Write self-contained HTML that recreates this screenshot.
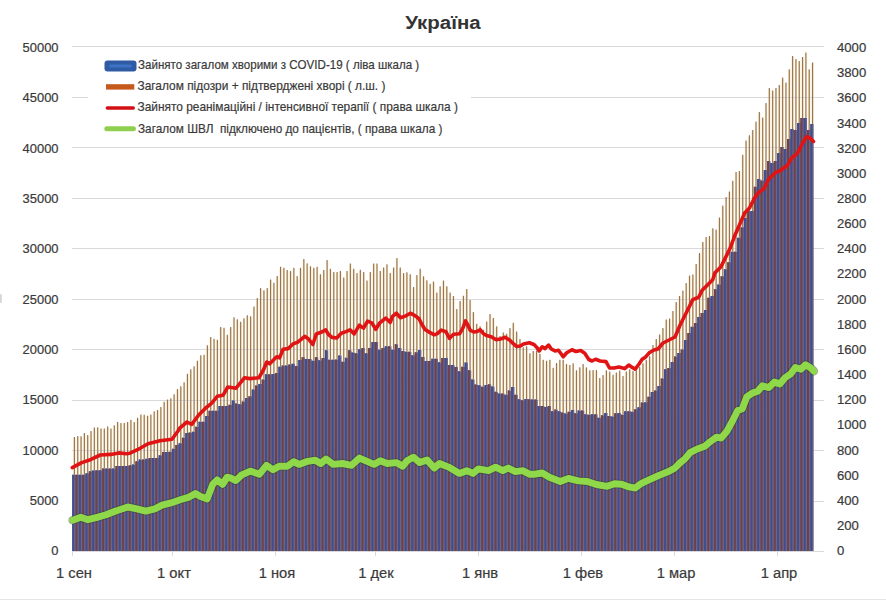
<!DOCTYPE html>
<html><head><meta charset="utf-8"><style>
html,body{margin:0;padding:0;background:#fff;}
body{width:886px;height:600px;position:relative;overflow:hidden;font-family:"Liberation Sans","DejaVu Sans",sans-serif;color:#3a3a3a;}
.yl,.yr,.xl,.lg{-webkit-text-stroke:0.2px #3a3a3a;}
.yl{position:absolute;left:0;width:58.5px;text-align:right;font-size:12px;line-height:16px;transform:scaleX(1.075);transform-origin:58.5px 0;}
.yr{position:absolute;left:837.2px;font-size:12px;line-height:16px;transform:scaleX(1.093);transform-origin:0 0;}
.xl{position:absolute;top:565.5px;width:80px;text-align:center;font-size:13.8px;line-height:16px;transform:scaleX(1.065);transform-origin:40px 0;}
.lg{position:absolute;left:137.5px;font-size:11.9px;line-height:16px;white-space:nowrap;}
.t{position:absolute;left:0;width:886px;top:10.8px;text-align:center;font-weight:bold;font-size:18px;line-height:24px;color:#333;transform:scaleX(1.135);transform-origin:443.7px 0;}
</style></head><body>
<svg width="886" height="600" viewBox="0 0 886 600" style="position:absolute;left:0;top:0"><path fill="#fbedcc" d="M73.2 437.7h2.4V474.8h-2.4zM76.53 436.9h2.4V474.8h-2.4zM79.85 437.1h2.4V474.8h-2.4zM83.18 433.9h2.4V474.8h-2.4zM86.5 435.7h2.4V473.17h-2.4zM89.83 431.7h2.4V471.36h-2.4zM93.15 428.4h2.4V470.51h-2.4zM96.48 428h2.4V470.2h-2.4zM99.8 429.2h2.4V470.2h-2.4zM103.12 429.2h2.4V468.53h-2.4zM106.45 427.2h2.4V468.4h-2.4zM109.78 429.2h2.4V468.4h-2.4zM113.1 426.1h2.4V468.4h-2.4zM116.43 422.8h2.4V466.1h-2.4zM119.75 423.7h2.4V466.1h-2.4zM123.08 423.7h2.4V466.1h-2.4zM126.4 422.9h2.4V466.1h-2.4zM129.73 420.5h2.4V465.14h-2.4zM133.05 422.8h2.4V464.61h-2.4zM136.38 418.6h2.4V461.17h-2.4zM139.7 415.3h2.4V459.5h-2.4zM143.03 415.6h2.4V459.5h-2.4zM146.35 416.5h2.4V458.74h-2.4zM149.68 415.3h2.4V458h-2.4zM153 412h2.4V458h-2.4zM156.32 410.8h2.4V458h-2.4zM159.65 407.8h2.4V455.31h-2.4zM162.98 402.5h2.4V452h-2.4zM166.3 400.3h2.4V452h-2.4zM169.62 399.1h2.4V451.78h-2.4zM172.95 395h2.4V448.73h-2.4zM176.28 389.8h2.4V445.07h-2.4zM179.6 387.1h2.4V443.31h-2.4zM182.93 383h2.4V437.67h-2.4zM186.25 374.55h2.4V433.04h-2.4zM189.57 370h2.4V432.5h-2.4zM192.9 367.05h2.4V431.66h-2.4zM196.23 361.5h2.4V426.67h-2.4zM199.55 356h2.4V421.7h-2.4zM202.88 355.6h2.4V421.7h-2.4zM206.2 346.1h2.4V415.93h-2.4zM209.53 337.7h2.4V410.7h-2.4zM212.85 339.5h2.4V410.7h-2.4zM216.18 340.6h2.4V410.7h-2.4zM219.5 327.8h2.4V406h-2.4zM222.82 328.5h2.4V406h-2.4zM226.15 335.5h2.4V406h-2.4zM229.48 327.8h2.4V404.7h-2.4zM232.8 318h2.4V400.6h-2.4zM236.12 320.1h2.4V403.51h-2.4zM239.45 322.6h2.4V404.3h-2.4zM242.78 319h2.4V401.5h-2.4zM246.1 316h2.4V398.07h-2.4zM249.43 317h2.4V396.35h-2.4zM252.75 307.3h2.4V389.6h-2.4zM256.07 298.8h2.4V385.47h-2.4zM259.4 288.9h2.4V384h-2.4zM262.73 291.1h2.4V379.5h-2.4zM266.05 288.9h2.4V374.3h-2.4zM269.38 280.2h2.4V374.3h-2.4zM272.7 283.5h2.4V373.97h-2.4zM276.03 276.9h2.4V373.1h-2.4zM279.35 267.5h2.4V366.7h-2.4zM282.68 268.5h2.4V365.5h-2.4zM286 270.7h2.4V365.5h-2.4zM289.32 271.8h2.4V364.51h-2.4zM292.65 268.5h2.4V363.8h-2.4zM295.98 276.9h2.4V366.1h-2.4zM299.3 268.5h2.4V359.89h-2.4zM302.62 259.8h2.4V357.3h-2.4zM305.95 264.1h2.4V359.1h-2.4zM309.28 267.1h2.4V359.1h-2.4zM312.6 268.5h2.4V360.8h-2.4zM315.93 267.5h2.4V357.3h-2.4zM319.25 275.1h2.4V360.3h-2.4zM322.57 270.7h2.4V357.9h-2.4zM325.9 260.9h2.4V350.3h-2.4zM329.23 269.5h2.4V359.68h-2.4zM332.55 272.7h2.4V359.64h-2.4zM335.88 272.7h2.4V359.6h-2.4zM339.2 271.8h2.4V355.5h-2.4zM342.52 278.2h2.4V361.82h-2.4zM345.85 271.8h2.4V357.8h-2.4zM349.18 264.2h2.4V350.3h-2.4zM352.5 269.5h2.4V352.52h-2.4zM355.82 273.9h2.4V353.21h-2.4zM359.15 270.6h2.4V349.37h-2.4zM362.48 272.7h2.4V347.9h-2.4zM365.8 281.4h2.4V353.2h-2.4zM369.12 272.7h2.4V347.9h-2.4zM372.45 264.2h2.4V342.1h-2.4zM375.77 264.2h2.4V342.1h-2.4zM379.1 271.8h2.4V349.7h-2.4zM382.43 268.3h2.4V347.9h-2.4zM385.75 265h2.4V346.2h-2.4zM389.07 273.9h2.4V346.2h-2.4zM392.4 268.3h2.4V349.7h-2.4zM395.73 258.7h2.4V344.29h-2.4zM399.05 268.3h2.4V347.98h-2.4zM402.38 273.9h2.4V351.1h-2.4zM405.7 273h2.4V351.7h-2.4zM409.03 275.1h2.4V351.7h-2.4zM412.35 287.9h2.4V355.2h-2.4zM415.68 275.9h2.4V352.25h-2.4zM419 269.5h2.4V349.9h-2.4zM422.32 277.1h2.4V356.9h-2.4zM425.65 281.1h2.4V361h-2.4zM428.98 284.6h2.4V361h-2.4zM432.3 282.3h2.4V358.7h-2.4zM435.62 293.4h2.4V358.7h-2.4zM438.95 287h2.4V362.2h-2.4zM442.28 281.4h2.4V358.1h-2.4zM445.6 287h2.4V358.1h-2.4zM448.93 293.4h2.4V365.1h-2.4zM452.25 296.9h2.4V365.1h-2.4zM455.57 309.7h2.4V367.05h-2.4zM458.9 301.9h2.4V371.3h-2.4zM462.23 296.6h2.4V366.7h-2.4zM465.55 289.8h2.4V362.6h-2.4zM468.88 300.7h2.4V370.2h-2.4zM472.2 312.7h2.4V379.5h-2.4zM475.53 324.6h2.4V384.54h-2.4zM478.85 327h2.4V385.3h-2.4zM482.18 330.5h2.4V386.86h-2.4zM485.5 322.3h2.4V385.02h-2.4zM488.82 314.7h2.4V384.2h-2.4zM492.15 318.8h2.4V386.42h-2.4zM495.48 327h2.4V391.71h-2.4zM498.8 336.9h2.4V393.5h-2.4zM502.12 333.4h2.4V393.5h-2.4zM505.45 334.6h2.4V394.7h-2.4zM508.78 328.7h2.4V390.6h-2.4zM512.1 323.5h2.4V387.1h-2.4zM515.43 332.2h2.4V394.7h-2.4zM518.75 339.8h2.4V399.3h-2.4zM522.08 348h2.4V400.2h-2.4zM525.4 347.05h2.4V398.9h-2.4zM528.73 354.05h2.4V399.19h-2.4zM532.05 351.7h2.4V399.5h-2.4zM535.38 351.3h2.4V399.5h-2.4zM538.7 354.6h2.4V405.9h-2.4zM542.03 360.5h2.4V405.9h-2.4zM545.35 361.6h2.4V407.1h-2.4zM548.68 360.5h2.4V405.9h-2.4zM552 368.6h2.4V411.2h-2.4zM555.33 363.7h2.4V409.4h-2.4zM558.65 360.5h2.4V411.2h-2.4zM561.98 360.5h2.4V412.42h-2.4zM565.3 364.9h2.4V413.5h-2.4zM568.62 365.7h2.4V411.75h-2.4zM571.95 364h2.4V410h-2.4zM575.28 371h2.4V413.32h-2.4zM578.6 368.05h2.4V410.6h-2.4zM581.93 364.9h2.4V410.6h-2.4zM585.25 368.05h2.4V414.2h-2.4zM588.58 371h2.4V414.75h-2.4zM591.9 370.9h2.4V414.2h-2.4zM595.23 370.9h2.4V414.2h-2.4zM598.55 378.7h2.4V417.7h-2.4zM601.88 375.8h2.4V415.3h-2.4zM605.2 371.1h2.4V413h-2.4zM608.53 372.3h2.4V415.9h-2.4zM611.85 375.6h2.4V416.5h-2.4zM615.18 373.2h2.4V413.36h-2.4zM618.5 371.4h2.4V413h-2.4zM621.83 376.7h2.4V414.75h-2.4zM625.15 372.3h2.4V411.25h-2.4zM628.48 370h2.4V411.25h-2.4zM631.8 371.7h2.4V411.8h-2.4zM635.13 371.1h2.4V409.34h-2.4zM638.45 367.9h2.4V407.2h-2.4zM641.78 364.1h2.4V402.5h-2.4zM645.1 360.6h2.4V402.37h-2.4zM648.43 357.1h2.4V396.7h-2.4zM651.75 345.8h2.4V392.01h-2.4zM655.08 339.8h2.4V390.5h-2.4zM658.4 335.2h2.4V386h-2.4zM661.73 328.8h2.4V378.5h-2.4zM665.05 320.4h2.4V369.36h-2.4zM668.38 319.2h2.4V368.01h-2.4zM671.7 311.8h2.4V362h-2.4zM675.03 302.8h2.4V356.5h-2.4zM678.35 296.8h2.4V353h-2.4zM681.68 291.2h2.4V349.5h-2.4zM685 283.8h2.4V340h-2.4zM688.33 276.4h2.4V333h-2.4zM691.65 275.2h2.4V326.86h-2.4zM694.98 264.8h2.4V323h-2.4zM698.3 253.8h2.4V317h-2.4zM701.63 242.8h2.4V312.97h-2.4zM704.95 237.8h2.4V310h-2.4zM708.28 236.7h2.4V297.75h-2.4zM711.6 229.1h2.4V296h-2.4zM714.93 230.2h2.4V289.24h-2.4zM718.25 218.3h2.4V284.5h-2.4zM721.58 206.4h2.4V276.3h-2.4zM724.9 197.7h2.4V269.3h-2.4zM728.23 192.3h2.4V262.3h-2.4zM731.55 181.5h2.4V251.8h-2.4zM734.88 172.8h2.4V251.8h-2.4zM738.2 171.7h2.4V237.8h-2.4zM741.53 155.5h2.4V227.3h-2.4zM744.85 141.4h2.4V218h-2.4zM748.18 136h2.4V211h-2.4zM751.5 130.7h2.4V211h-2.4zM754.83 122.4h2.4V186.69h-2.4zM758.15 112.9h2.4V179h-2.4zM761.48 118.2h2.4V180.52h-2.4zM764.8 103.7h2.4V170h-2.4zM768.13 88.8h2.4V161h-2.4zM771.45 91.2h2.4V163h-2.4zM774.78 88.8h2.4V161h-2.4zM778.1 85.7h2.4V153h-2.4zM781.43 78.4h2.4V147h-2.4zM784.75 83.3h2.4V149h-2.4zM788.08 70.1h2.4V139h-2.4zM791.4 56.9h2.4V129h-2.4zM794.73 59.7h2.4V130h-2.4zM798.05 61.9h2.4V123h-2.4zM801.38 57.7h2.4V118h-2.4zM804.7 53.3h2.4V118h-2.4zM808.03 70.1h2.4V130h-2.4zM811.35 63.2h2.4V124h-2.4z"/><line x1="72" y1="46.5" x2="824" y2="46.5" stroke="#d9d9d9" stroke-width="1"/><line x1="72" y1="97.5" x2="824" y2="97.5" stroke="#d9d9d9" stroke-width="1"/><line x1="72" y1="147.5" x2="824" y2="147.5" stroke="#d9d9d9" stroke-width="1"/><line x1="72" y1="198.5" x2="824" y2="198.5" stroke="#d9d9d9" stroke-width="1"/><line x1="72" y1="248.5" x2="824" y2="248.5" stroke="#d9d9d9" stroke-width="1"/><line x1="72" y1="299.5" x2="824" y2="299.5" stroke="#d9d9d9" stroke-width="1"/><line x1="72" y1="349.5" x2="824" y2="349.5" stroke="#d9d9d9" stroke-width="1"/><line x1="72" y1="400.5" x2="824" y2="400.5" stroke="#d9d9d9" stroke-width="1"/><line x1="72" y1="450.5" x2="824" y2="450.5" stroke="#d9d9d9" stroke-width="1"/><line x1="72" y1="501.5" x2="824" y2="501.5" stroke="#d9d9d9" stroke-width="1"/><rect x="88" y="52" width="383" height="88" fill="#fff"/><path fill="#967556" d="M73.83 436.9h1.15V474.8h-1.15zM77.15 436.1h1.15V474.8h-1.15zM80.48 436.3h1.15V474.8h-1.15zM83.8 433.1h1.15V474.8h-1.15zM87.12 434.9h1.15V473.17h-1.15zM90.45 430.9h1.15V471.36h-1.15zM93.78 427.6h1.15V470.51h-1.15zM97.1 427.2h1.15V470.2h-1.15zM100.43 428.4h1.15V470.2h-1.15zM103.75 428.4h1.15V468.53h-1.15zM107.08 426.4h1.15V468.4h-1.15zM110.4 428.4h1.15V468.4h-1.15zM113.73 425.3h1.15V468.4h-1.15zM117.05 422h1.15V466.1h-1.15zM120.38 422.9h1.15V466.1h-1.15zM123.7 422.9h1.15V466.1h-1.15zM127.03 422.1h1.15V466.1h-1.15zM130.35 419.7h1.15V465.14h-1.15zM133.68 422h1.15V464.61h-1.15zM137 417.8h1.15V461.17h-1.15zM140.32 414.5h1.15V459.5h-1.15zM143.65 414.8h1.15V459.5h-1.15zM146.98 415.7h1.15V458.74h-1.15zM150.3 414.5h1.15V458h-1.15zM153.62 411.2h1.15V458h-1.15zM156.95 410h1.15V458h-1.15zM160.28 407h1.15V455.31h-1.15zM163.6 401.7h1.15V452h-1.15zM166.93 399.5h1.15V452h-1.15zM170.25 398.3h1.15V451.78h-1.15zM173.57 394.2h1.15V448.73h-1.15zM176.9 389h1.15V445.07h-1.15zM180.23 386.3h1.15V443.31h-1.15zM183.55 382.2h1.15V437.67h-1.15zM186.88 373.75h1.15V433.04h-1.15zM190.2 369.2h1.15V432.5h-1.15zM193.53 366.25h1.15V431.66h-1.15zM196.85 360.7h1.15V426.67h-1.15zM200.18 355.2h1.15V421.7h-1.15zM203.5 354.8h1.15V421.7h-1.15zM206.82 345.3h1.15V415.93h-1.15zM210.15 336.9h1.15V410.7h-1.15zM213.48 338.7h1.15V410.7h-1.15zM216.8 339.8h1.15V410.7h-1.15zM220.12 327h1.15V406h-1.15zM223.45 327.7h1.15V406h-1.15zM226.78 334.7h1.15V406h-1.15zM230.1 327h1.15V404.7h-1.15zM233.43 317.2h1.15V400.6h-1.15zM236.75 319.3h1.15V403.51h-1.15zM240.07 321.8h1.15V404.3h-1.15zM243.4 318.2h1.15V401.5h-1.15zM246.73 315.2h1.15V398.07h-1.15zM250.05 316.2h1.15V396.35h-1.15zM253.38 306.5h1.15V389.6h-1.15zM256.7 298h1.15V385.47h-1.15zM260.03 288.1h1.15V384h-1.15zM263.35 290.3h1.15V379.5h-1.15zM266.68 288.1h1.15V374.3h-1.15zM270 279.4h1.15V374.3h-1.15zM273.32 282.7h1.15V373.97h-1.15zM276.65 276.1h1.15V373.1h-1.15zM279.98 266.7h1.15V366.7h-1.15zM283.3 267.7h1.15V365.5h-1.15zM286.62 269.9h1.15V365.5h-1.15zM289.95 271h1.15V364.51h-1.15zM293.28 267.7h1.15V363.8h-1.15zM296.6 276.1h1.15V366.1h-1.15zM299.93 267.7h1.15V359.89h-1.15zM303.25 259h1.15V357.3h-1.15zM306.57 263.3h1.15V359.1h-1.15zM309.9 266.3h1.15V359.1h-1.15zM313.23 267.7h1.15V360.8h-1.15zM316.55 266.7h1.15V357.3h-1.15zM319.88 274.3h1.15V360.3h-1.15zM323.2 269.9h1.15V357.9h-1.15zM326.53 260.1h1.15V350.3h-1.15zM329.85 268.7h1.15V359.68h-1.15zM333.18 271.9h1.15V359.64h-1.15zM336.5 271.9h1.15V359.6h-1.15zM339.82 271h1.15V355.5h-1.15zM343.15 277.4h1.15V361.82h-1.15zM346.48 271h1.15V357.8h-1.15zM349.8 263.4h1.15V350.3h-1.15zM353.12 268.7h1.15V352.52h-1.15zM356.45 273.1h1.15V353.21h-1.15zM359.77 269.8h1.15V349.37h-1.15zM363.1 271.9h1.15V347.9h-1.15zM366.43 280.6h1.15V353.2h-1.15zM369.75 271.9h1.15V347.9h-1.15zM373.07 263.4h1.15V342.1h-1.15zM376.4 263.4h1.15V342.1h-1.15zM379.73 271h1.15V349.7h-1.15zM383.05 267.5h1.15V347.9h-1.15zM386.38 264.2h1.15V346.2h-1.15zM389.7 273.1h1.15V346.2h-1.15zM393.03 267.5h1.15V349.7h-1.15zM396.35 257.9h1.15V344.29h-1.15zM399.68 267.5h1.15V347.98h-1.15zM403 273.1h1.15V351.1h-1.15zM406.32 272.2h1.15V351.7h-1.15zM409.65 274.3h1.15V351.7h-1.15zM412.98 287.1h1.15V355.2h-1.15zM416.3 275.1h1.15V352.25h-1.15zM419.62 268.7h1.15V349.9h-1.15zM422.95 276.3h1.15V356.9h-1.15zM426.28 280.3h1.15V361h-1.15zM429.6 283.8h1.15V361h-1.15zM432.93 281.5h1.15V358.7h-1.15zM436.25 292.6h1.15V358.7h-1.15zM439.57 286.2h1.15V362.2h-1.15zM442.9 280.6h1.15V358.1h-1.15zM446.23 286.2h1.15V358.1h-1.15zM449.55 292.6h1.15V365.1h-1.15zM452.88 296.1h1.15V365.1h-1.15zM456.2 308.9h1.15V367.05h-1.15zM459.53 301.1h1.15V371.3h-1.15zM462.85 295.8h1.15V366.7h-1.15zM466.18 289h1.15V362.6h-1.15zM469.5 299.9h1.15V370.2h-1.15zM472.82 311.9h1.15V379.5h-1.15zM476.15 323.8h1.15V384.54h-1.15zM479.48 326.2h1.15V385.3h-1.15zM482.8 329.7h1.15V386.86h-1.15zM486.12 321.5h1.15V385.02h-1.15zM489.45 313.9h1.15V384.2h-1.15zM492.78 318h1.15V386.42h-1.15zM496.1 326.2h1.15V391.71h-1.15zM499.43 336.1h1.15V393.5h-1.15zM502.75 332.6h1.15V393.5h-1.15zM506.07 333.8h1.15V394.7h-1.15zM509.4 327.9h1.15V390.6h-1.15zM512.73 322.7h1.15V387.1h-1.15zM516.05 331.4h1.15V394.7h-1.15zM519.38 339h1.15V399.3h-1.15zM522.7 347.2h1.15V400.2h-1.15zM526.03 346.25h1.15V398.9h-1.15zM529.35 353.25h1.15V399.19h-1.15zM532.68 350.9h1.15V399.5h-1.15zM536 350.5h1.15V399.5h-1.15zM539.33 353.8h1.15V405.9h-1.15zM542.65 359.7h1.15V405.9h-1.15zM545.98 360.8h1.15V407.1h-1.15zM549.3 359.7h1.15V405.9h-1.15zM552.62 367.8h1.15V411.2h-1.15zM555.95 362.9h1.15V409.4h-1.15zM559.28 359.7h1.15V411.2h-1.15zM562.6 359.7h1.15V412.42h-1.15zM565.93 364.1h1.15V413.5h-1.15zM569.25 364.9h1.15V411.75h-1.15zM572.58 363.2h1.15V410h-1.15zM575.9 370.2h1.15V413.32h-1.15zM579.23 367.25h1.15V410.6h-1.15zM582.55 364.1h1.15V410.6h-1.15zM585.88 367.25h1.15V414.2h-1.15zM589.2 370.2h1.15V414.75h-1.15zM592.53 370.1h1.15V414.2h-1.15zM595.85 370.1h1.15V414.2h-1.15zM599.18 377.9h1.15V417.7h-1.15zM602.5 375h1.15V415.3h-1.15zM605.83 370.3h1.15V413h-1.15zM609.15 371.5h1.15V415.9h-1.15zM612.48 374.8h1.15V416.5h-1.15zM615.8 372.4h1.15V413.36h-1.15zM619.13 370.6h1.15V413h-1.15zM622.45 375.9h1.15V414.75h-1.15zM625.78 371.5h1.15V411.25h-1.15zM629.1 369.2h1.15V411.25h-1.15zM632.43 370.9h1.15V411.8h-1.15zM635.75 370.3h1.15V409.34h-1.15zM639.08 367.1h1.15V407.2h-1.15zM642.4 363.3h1.15V402.5h-1.15zM645.73 359.8h1.15V402.37h-1.15zM649.05 356.3h1.15V396.7h-1.15zM652.38 345h1.15V392.01h-1.15zM655.7 339h1.15V390.5h-1.15zM659.03 334.4h1.15V386h-1.15zM662.35 328h1.15V378.5h-1.15zM665.68 319.6h1.15V369.36h-1.15zM669 318.4h1.15V368.01h-1.15zM672.33 311h1.15V362h-1.15zM675.65 302h1.15V356.5h-1.15zM678.98 296h1.15V353h-1.15zM682.3 290.4h1.15V349.5h-1.15zM685.63 283h1.15V340h-1.15zM688.95 275.6h1.15V333h-1.15zM692.28 274.4h1.15V326.86h-1.15zM695.6 264h1.15V323h-1.15zM698.93 253h1.15V317h-1.15zM702.25 242h1.15V312.97h-1.15zM705.58 237h1.15V310h-1.15zM708.9 235.9h1.15V297.75h-1.15zM712.23 228.3h1.15V296h-1.15zM715.55 229.4h1.15V289.24h-1.15zM718.88 217.5h1.15V284.5h-1.15zM722.2 205.6h1.15V276.3h-1.15zM725.53 196.9h1.15V269.3h-1.15zM728.85 191.5h1.15V262.3h-1.15zM732.18 180.7h1.15V251.8h-1.15zM735.5 172h1.15V251.8h-1.15zM738.83 170.9h1.15V237.8h-1.15zM742.15 154.7h1.15V227.3h-1.15zM745.48 140.6h1.15V218h-1.15zM748.8 135.2h1.15V211h-1.15zM752.13 129.9h1.15V211h-1.15zM755.45 121.6h1.15V186.69h-1.15zM758.78 112.1h1.15V179h-1.15zM762.1 117.4h1.15V180.52h-1.15zM765.43 102.9h1.15V170h-1.15zM768.75 88h1.15V161h-1.15zM772.08 90.4h1.15V163h-1.15zM775.4 88h1.15V161h-1.15zM778.73 84.9h1.15V153h-1.15zM782.05 77.6h1.15V147h-1.15zM785.38 82.5h1.15V149h-1.15zM788.7 69.3h1.15V139h-1.15zM792.03 56.1h1.15V129h-1.15zM795.35 58.9h1.15V130h-1.15zM798.68 61.1h1.15V123h-1.15zM802 56.9h1.15V118h-1.15zM805.33 52.5h1.15V118h-1.15zM808.65 69.3h1.15V130h-1.15zM811.98 62.4h1.15V124h-1.15z"/><path fill="#6c6682" d="M72.2 474.8h3.38V551h-3.38zM75.53 474.8h3.38V551h-3.38zM78.85 474.8h3.38V551h-3.38zM82.18 474.8h3.38V551h-3.38zM85.5 473.17h3.38V551h-3.38zM88.83 471.36h3.38V551h-3.38zM92.15 470.51h3.38V551h-3.38zM95.48 470.2h3.38V551h-3.38zM98.8 470.2h3.38V551h-3.38zM102.12 468.53h3.38V551h-3.38zM105.45 468.4h3.38V551h-3.38zM108.78 468.4h3.38V551h-3.38zM112.1 468.4h3.38V551h-3.38zM115.43 466.1h3.38V551h-3.38zM118.75 466.1h3.38V551h-3.38zM122.08 466.1h3.38V551h-3.38zM125.4 466.1h3.38V551h-3.38zM128.73 465.14h3.38V551h-3.38zM132.05 464.61h3.38V551h-3.38zM135.38 461.17h3.38V551h-3.38zM138.7 459.5h3.38V551h-3.38zM142.03 459.5h3.38V551h-3.38zM145.35 458.74h3.38V551h-3.38zM148.68 458h3.38V551h-3.38zM152 458h3.38V551h-3.38zM155.32 458h3.38V551h-3.38zM158.65 455.31h3.38V551h-3.38zM161.98 452h3.38V551h-3.38zM165.3 452h3.38V551h-3.38zM168.62 451.78h3.38V551h-3.38zM171.95 448.73h3.38V551h-3.38zM175.28 445.07h3.38V551h-3.38zM178.6 443.31h3.38V551h-3.38zM181.93 437.67h3.38V551h-3.38zM185.25 433.04h3.38V551h-3.38zM188.57 432.5h3.38V551h-3.38zM191.9 431.66h3.38V551h-3.38zM195.23 426.67h3.38V551h-3.38zM198.55 421.7h3.38V551h-3.38zM201.88 421.7h3.38V551h-3.38zM205.2 415.93h3.38V551h-3.38zM208.53 410.7h3.38V551h-3.38zM211.85 410.7h3.38V551h-3.38zM215.18 410.7h3.38V551h-3.38zM218.5 406h3.38V551h-3.38zM221.82 406h3.38V551h-3.38zM225.15 406h3.38V551h-3.38zM228.48 404.7h3.38V551h-3.38zM231.8 400.6h3.38V551h-3.38zM235.12 403.51h3.38V551h-3.38zM238.45 404.3h3.38V551h-3.38zM241.78 401.5h3.38V551h-3.38zM245.1 398.07h3.38V551h-3.38zM248.43 396.35h3.38V551h-3.38zM251.75 389.6h3.38V551h-3.38zM255.07 385.47h3.38V551h-3.38zM258.4 384h3.38V551h-3.38zM261.73 379.5h3.38V551h-3.38zM265.05 374.3h3.38V551h-3.38zM268.38 374.3h3.38V551h-3.38zM271.7 373.97h3.38V551h-3.38zM275.03 373.1h3.38V551h-3.38zM278.35 366.7h3.38V551h-3.38zM281.68 365.5h3.38V551h-3.38zM285 365.5h3.38V551h-3.38zM288.32 364.51h3.38V551h-3.38zM291.65 363.8h3.38V551h-3.38zM294.98 366.1h3.38V551h-3.38zM298.3 359.89h3.38V551h-3.38zM301.62 357.3h3.38V551h-3.38zM304.95 359.1h3.38V551h-3.38zM308.28 359.1h3.38V551h-3.38zM311.6 360.8h3.38V551h-3.38zM314.93 357.3h3.38V551h-3.38zM318.25 360.3h3.38V551h-3.38zM321.57 357.9h3.38V551h-3.38zM324.9 350.3h3.38V551h-3.38zM328.23 359.68h3.38V551h-3.38zM331.55 359.64h3.38V551h-3.38zM334.88 359.6h3.38V551h-3.38zM338.2 355.5h3.38V551h-3.38zM341.52 361.82h3.38V551h-3.38zM344.85 357.8h3.38V551h-3.38zM348.18 350.3h3.38V551h-3.38zM351.5 352.52h3.38V551h-3.38zM354.82 353.21h3.38V551h-3.38zM358.15 349.37h3.38V551h-3.38zM361.48 347.9h3.38V551h-3.38zM364.8 353.2h3.38V551h-3.38zM368.12 347.9h3.38V551h-3.38zM371.45 342.1h3.38V551h-3.38zM374.77 342.1h3.38V551h-3.38zM378.1 349.7h3.38V551h-3.38zM381.43 347.9h3.38V551h-3.38zM384.75 346.2h3.38V551h-3.38zM388.07 346.2h3.38V551h-3.38zM391.4 349.7h3.38V551h-3.38zM394.73 344.29h3.38V551h-3.38zM398.05 347.98h3.38V551h-3.38zM401.38 351.1h3.38V551h-3.38zM404.7 351.7h3.38V551h-3.38zM408.03 351.7h3.38V551h-3.38zM411.35 355.2h3.38V551h-3.38zM414.68 352.25h3.38V551h-3.38zM418 349.9h3.38V551h-3.38zM421.32 356.9h3.38V551h-3.38zM424.65 361h3.38V551h-3.38zM427.98 361h3.38V551h-3.38zM431.3 358.7h3.38V551h-3.38zM434.62 358.7h3.38V551h-3.38zM437.95 362.2h3.38V551h-3.38zM441.28 358.1h3.38V551h-3.38zM444.6 358.1h3.38V551h-3.38zM447.93 365.1h3.38V551h-3.38zM451.25 365.1h3.38V551h-3.38zM454.57 367.05h3.38V551h-3.38zM457.9 371.3h3.38V551h-3.38zM461.23 366.7h3.38V551h-3.38zM464.55 362.6h3.38V551h-3.38zM467.88 370.2h3.38V551h-3.38zM471.2 379.5h3.38V551h-3.38zM474.53 384.54h3.38V551h-3.38zM477.85 385.3h3.38V551h-3.38zM481.18 386.86h3.38V551h-3.38zM484.5 385.02h3.38V551h-3.38zM487.82 384.2h3.38V551h-3.38zM491.15 386.42h3.38V551h-3.38zM494.48 391.71h3.38V551h-3.38zM497.8 393.5h3.38V551h-3.38zM501.12 393.5h3.38V551h-3.38zM504.45 394.7h3.38V551h-3.38zM507.78 390.6h3.38V551h-3.38zM511.1 387.1h3.38V551h-3.38zM514.43 394.7h3.38V551h-3.38zM517.75 399.3h3.38V551h-3.38zM521.08 400.2h3.38V551h-3.38zM524.4 398.9h3.38V551h-3.38zM527.73 399.19h3.38V551h-3.38zM531.05 399.5h3.38V551h-3.38zM534.38 399.5h3.38V551h-3.38zM537.7 405.9h3.38V551h-3.38zM541.03 405.9h3.38V551h-3.38zM544.35 407.1h3.38V551h-3.38zM547.68 405.9h3.38V551h-3.38zM551 411.2h3.38V551h-3.38zM554.33 409.4h3.38V551h-3.38zM557.65 411.2h3.38V551h-3.38zM560.98 412.42h3.38V551h-3.38zM564.3 413.5h3.38V551h-3.38zM567.62 411.75h3.38V551h-3.38zM570.95 410h3.38V551h-3.38zM574.28 413.32h3.38V551h-3.38zM577.6 410.6h3.38V551h-3.38zM580.93 410.6h3.38V551h-3.38zM584.25 414.2h3.38V551h-3.38zM587.58 414.75h3.38V551h-3.38zM590.9 414.2h3.38V551h-3.38zM594.23 414.2h3.38V551h-3.38zM597.55 417.7h3.38V551h-3.38zM600.88 415.3h3.38V551h-3.38zM604.2 413h3.38V551h-3.38zM607.53 415.9h3.38V551h-3.38zM610.85 416.5h3.38V551h-3.38zM614.18 413.36h3.38V551h-3.38zM617.5 413h3.38V551h-3.38zM620.83 414.75h3.38V551h-3.38zM624.15 411.25h3.38V551h-3.38zM627.48 411.25h3.38V551h-3.38zM630.8 411.8h3.38V551h-3.38zM634.13 409.34h3.38V551h-3.38zM637.45 407.2h3.38V551h-3.38zM640.78 402.5h3.38V551h-3.38zM644.1 402.37h3.38V551h-3.38zM647.43 396.7h3.38V551h-3.38zM650.75 392.01h3.38V551h-3.38zM654.08 390.5h3.38V551h-3.38zM657.4 386h3.38V551h-3.38zM660.73 378.5h3.38V551h-3.38zM664.05 369.36h3.38V551h-3.38zM667.38 368.01h3.38V551h-3.38zM670.7 362h3.38V551h-3.38zM674.03 356.5h3.38V551h-3.38zM677.35 353h3.38V551h-3.38zM680.68 349.5h3.38V551h-3.38zM684 340h3.38V551h-3.38zM687.33 333h3.38V551h-3.38zM690.65 326.86h3.38V551h-3.38zM693.98 323h3.38V551h-3.38zM697.3 317h3.38V551h-3.38zM700.63 312.97h3.38V551h-3.38zM703.95 310h3.38V551h-3.38zM707.28 297.75h3.38V551h-3.38zM710.6 296h3.38V551h-3.38zM713.93 289.24h3.38V551h-3.38zM717.25 284.5h3.38V551h-3.38zM720.58 276.3h3.38V551h-3.38zM723.9 269.3h3.38V551h-3.38zM727.23 262.3h3.38V551h-3.38zM730.55 251.8h3.38V551h-3.38zM733.88 251.8h3.38V551h-3.38zM737.2 237.8h3.38V551h-3.38zM740.53 227.3h3.38V551h-3.38zM743.85 218h3.38V551h-3.38zM747.18 211h3.38V551h-3.38zM750.5 211h3.38V551h-3.38zM753.83 186.69h3.38V551h-3.38zM757.15 179h3.38V551h-3.38zM760.48 180.52h3.38V551h-3.38zM763.8 170h3.38V551h-3.38zM767.13 161h3.38V551h-3.38zM770.45 163h3.38V551h-3.38zM773.78 161h3.38V551h-3.38zM777.1 153h3.38V551h-3.38zM780.43 147h3.38V551h-3.38zM783.75 149h3.38V551h-3.38zM787.08 139h3.38V551h-3.38zM790.4 129h3.38V551h-3.38zM793.73 130h3.38V551h-3.38zM797.05 123h3.38V551h-3.38zM800.38 118h3.38V551h-3.38zM803.7 118h3.38V551h-3.38zM807.03 130h3.38V551h-3.38zM810.35 124h3.33V551h-3.33z"/><path fill="#404d92" d="M72.2 474.8h2V551h-2zM78.85 474.8h2V551h-2zM85.5 473.17h2V551h-2zM92.15 470.51h2V551h-2zM98.8 470.2h2V551h-2zM105.45 468.4h2V551h-2zM112.1 468.4h2V551h-2zM118.75 466.1h2V551h-2zM125.4 466.1h2V551h-2zM132.05 464.61h2V551h-2zM138.7 459.5h2V551h-2zM145.35 458.74h2V551h-2zM152 458h2V551h-2zM158.65 455.31h2V551h-2zM165.3 452h2V551h-2zM171.95 448.73h2V551h-2zM178.6 443.31h2V551h-2zM185.25 433.04h2V551h-2zM191.9 431.66h2V551h-2zM198.55 421.7h2V551h-2zM205.2 415.93h2V551h-2zM211.85 410.7h2V551h-2zM218.5 406h2V551h-2zM225.15 406h2V551h-2zM231.8 400.6h2V551h-2zM238.45 404.3h2V551h-2zM245.1 398.07h2V551h-2zM251.75 389.6h2V551h-2zM258.4 384h2V551h-2zM265.05 374.3h2V551h-2zM271.7 373.97h2V551h-2zM278.35 366.7h2V551h-2zM285 365.5h2V551h-2zM291.65 363.8h2V551h-2zM298.3 359.89h2V551h-2zM304.95 359.1h2V551h-2zM311.6 360.8h2V551h-2zM318.25 360.3h2V551h-2zM324.9 350.3h2V551h-2zM331.55 359.64h2V551h-2zM338.2 355.5h2V551h-2zM344.85 357.8h2V551h-2zM351.5 352.52h2V551h-2zM358.15 349.37h2V551h-2zM364.8 353.2h2V551h-2zM371.45 342.1h2V551h-2zM378.1 349.7h2V551h-2zM384.75 346.2h2V551h-2zM391.4 349.7h2V551h-2zM398.05 347.98h2V551h-2zM404.7 351.7h2V551h-2zM411.35 355.2h2V551h-2zM418 349.9h2V551h-2zM424.65 361h2V551h-2zM431.3 358.7h2V551h-2zM437.95 362.2h2V551h-2zM444.6 358.1h2V551h-2zM451.25 365.1h2V551h-2zM457.9 371.3h2V551h-2zM464.55 362.6h2V551h-2zM471.2 379.5h2V551h-2zM477.85 385.3h2V551h-2zM484.5 385.02h2V551h-2zM491.15 386.42h2V551h-2zM497.8 393.5h2V551h-2zM504.45 394.7h2V551h-2zM511.1 387.1h2V551h-2zM517.75 399.3h2V551h-2zM524.4 398.9h2V551h-2zM531.05 399.5h2V551h-2zM537.7 405.9h2V551h-2zM544.35 407.1h2V551h-2zM551 411.2h2V551h-2zM557.65 411.2h2V551h-2zM564.3 413.5h2V551h-2zM570.95 410h2V551h-2zM577.6 410.6h2V551h-2zM584.25 414.2h2V551h-2zM590.9 414.2h2V551h-2zM597.55 417.7h2V551h-2zM604.2 413h2V551h-2zM610.85 416.5h2V551h-2zM617.5 413h2V551h-2zM624.15 411.25h2V551h-2zM630.8 411.8h2V551h-2zM637.45 407.2h2V551h-2zM644.1 402.37h2V551h-2zM650.75 392.01h2V551h-2zM657.4 386h2V551h-2zM664.05 369.36h2V551h-2zM670.7 362h2V551h-2zM677.35 353h2V551h-2zM684 340h2V551h-2zM690.65 326.86h2V551h-2zM697.3 317h2V551h-2zM703.95 310h2V551h-2zM710.6 296h2V551h-2zM717.25 284.5h2V551h-2zM723.9 269.3h2V551h-2zM730.55 251.8h2V551h-2zM737.2 237.8h2V551h-2zM743.85 218h2V551h-2zM750.5 211h2V551h-2zM757.15 179h2V551h-2zM763.8 170h2V551h-2zM770.45 163h2V551h-2zM777.1 153h2V551h-2zM783.75 149h2V551h-2zM790.4 129h2V551h-2zM797.05 123h2V551h-2zM803.7 118h2V551h-2zM810.35 124h2V551h-2z"/><path fill="#6e414b" d="M75.53 474.8h2V551h-2zM82.18 474.8h2V551h-2zM88.83 471.36h2V551h-2zM95.48 470.2h2V551h-2zM102.12 468.53h2V551h-2zM108.78 468.4h2V551h-2zM115.43 466.1h2V551h-2zM122.08 466.1h2V551h-2zM128.73 465.14h2V551h-2zM135.38 461.17h2V551h-2zM142.03 459.5h2V551h-2zM148.68 458h2V551h-2zM155.32 458h2V551h-2zM161.98 452h2V551h-2zM168.62 451.78h2V551h-2zM175.28 445.07h2V551h-2zM181.93 437.67h2V551h-2zM188.57 432.5h2V551h-2zM195.23 426.67h2V551h-2zM201.88 421.7h2V551h-2zM208.53 410.7h2V551h-2zM215.18 410.7h2V551h-2zM221.82 406h2V551h-2zM228.48 404.7h2V551h-2zM235.12 403.51h2V551h-2zM241.78 401.5h2V551h-2zM248.43 396.35h2V551h-2zM255.07 385.47h2V551h-2zM261.73 379.5h2V551h-2zM268.38 374.3h2V551h-2zM275.03 373.1h2V551h-2zM281.68 365.5h2V551h-2zM288.32 364.51h2V551h-2zM294.98 366.1h2V551h-2zM301.62 357.3h2V551h-2zM308.28 359.1h2V551h-2zM314.93 357.3h2V551h-2zM321.57 357.9h2V551h-2zM328.23 359.68h2V551h-2zM334.88 359.6h2V551h-2zM341.52 361.82h2V551h-2zM348.18 350.3h2V551h-2zM354.82 353.21h2V551h-2zM361.48 347.9h2V551h-2zM368.12 347.9h2V551h-2zM374.77 342.1h2V551h-2zM381.43 347.9h2V551h-2zM388.07 346.2h2V551h-2zM394.73 344.29h2V551h-2zM401.38 351.1h2V551h-2zM408.03 351.7h2V551h-2zM414.68 352.25h2V551h-2zM421.32 356.9h2V551h-2zM427.98 361h2V551h-2zM434.62 358.7h2V551h-2zM441.28 358.1h2V551h-2zM447.93 365.1h2V551h-2zM454.57 367.05h2V551h-2zM461.23 366.7h2V551h-2zM467.88 370.2h2V551h-2zM474.53 384.54h2V551h-2zM481.18 386.86h2V551h-2zM487.82 384.2h2V551h-2zM494.48 391.71h2V551h-2zM501.12 393.5h2V551h-2zM507.78 390.6h2V551h-2zM514.43 394.7h2V551h-2zM521.08 400.2h2V551h-2zM527.73 399.19h2V551h-2zM534.38 399.5h2V551h-2zM541.03 405.9h2V551h-2zM547.68 405.9h2V551h-2zM554.33 409.4h2V551h-2zM560.98 412.42h2V551h-2zM567.62 411.75h2V551h-2zM574.28 413.32h2V551h-2zM580.93 410.6h2V551h-2zM587.58 414.75h2V551h-2zM594.23 414.2h2V551h-2zM600.88 415.3h2V551h-2zM607.53 415.9h2V551h-2zM614.18 413.36h2V551h-2zM620.83 414.75h2V551h-2zM627.48 411.25h2V551h-2zM634.13 409.34h2V551h-2zM640.78 402.5h2V551h-2zM647.43 396.7h2V551h-2zM654.08 390.5h2V551h-2zM660.73 378.5h2V551h-2zM667.38 368.01h2V551h-2zM674.03 356.5h2V551h-2zM680.68 349.5h2V551h-2zM687.33 333h2V551h-2zM693.98 323h2V551h-2zM700.63 312.97h2V551h-2zM707.28 297.75h2V551h-2zM713.93 289.24h2V551h-2zM720.58 276.3h2V551h-2zM727.23 262.3h2V551h-2zM733.88 251.8h2V551h-2zM740.53 227.3h2V551h-2zM747.18 211h2V551h-2zM753.83 186.69h2V551h-2zM760.48 180.52h2V551h-2zM767.13 161h2V551h-2zM773.78 161h2V551h-2zM780.43 147h2V551h-2zM787.08 139h2V551h-2zM793.73 130h2V551h-2zM800.38 118h2V551h-2zM807.03 130h2V551h-2z"/><line x1="72" y1="551.5" x2="824" y2="551.5" stroke="#d9d9d9" stroke-width="1"/><line x1="72.5" y1="551" x2="72.5" y2="556" stroke="#d9d9d9" stroke-width="1"/><line x1="172.5" y1="551" x2="172.5" y2="556" stroke="#d9d9d9" stroke-width="1"/><line x1="275.5" y1="551" x2="275.5" y2="556" stroke="#d9d9d9" stroke-width="1"/><line x1="375.5" y1="551" x2="375.5" y2="556" stroke="#d9d9d9" stroke-width="1"/><line x1="478.5" y1="551" x2="478.5" y2="556" stroke="#d9d9d9" stroke-width="1"/><line x1="581.5" y1="551" x2="581.5" y2="556" stroke="#d9d9d9" stroke-width="1"/><line x1="674.5" y1="551" x2="674.5" y2="556" stroke="#d9d9d9" stroke-width="1"/><line x1="777.5" y1="551" x2="777.5" y2="556" stroke="#d9d9d9" stroke-width="1"/><polyline points="72.7,520.2 80.8,517.3 88,519.7 97.1,517.3 106.1,514.8 115.1,511.2 127.8,507 136.8,508.8 145.8,511.2 154.9,508.8 162.1,505.2 171.1,502.9 180.2,499.8 189.2,497.1 195.5,493.5 200,496.2 207.2,498.9 212.7,484.4 217.2,479.9 222.6,484.4 227.1,477.2 230.4,477.9 235.8,480.6 241.3,475.2 250.3,471.1 259.3,474.3 266.5,465.3 272.9,469.8 279.2,466.2 287.3,466.2 293.6,461.7 299,464.4 306.3,461.7 315.3,460.2 320.7,463.5 326.1,459 333.4,464.4 342.4,463.5 351.4,465.3 359.5,458.1 367.7,461.7 374,464.4 380.3,460.8 387.2,463.5 396.3,462.6 402.6,466.2 407.1,460.8 413.4,457.2 419.7,462.6 427,459.9 434.2,468 439.6,463.5 448.6,467.1 459.5,473.4 466.7,470.7 473,473.4 478.4,468.9 488.4,470.7 495.6,467.1 502.8,470.7 508.2,468 515.4,471.6 522.7,470.7 529.9,474.3 535,474.2 542.2,473 549.4,477.3 560.3,481.5 568.4,478.4 578.3,480.9 587.4,481.5 596.4,484.5 607.2,486.3 614.5,483.8 621.7,484.2 628.9,486.9 635.2,488.1 641.5,483.3 650.6,479.1 659.6,475.1 668.6,471.5 675,467.9 680.4,462.5 684.9,458.9 690,452.7 697.3,449 704.7,446.3 710.2,441.7 716.6,437.1 721.2,438 726.7,431.6 732.2,421.5 737.7,410.5 742.3,408.7 746.8,396.8 752.3,393.1 757.8,391.3 762.4,385.8 768.8,387.6 774.3,382.1 779.8,383.9 785.3,377.5 790.8,373.8 795.4,367.4 800.9,369.3 805.5,364.7 810.1,367.4 813.8,371.1" fill="none" stroke="#2c3a28" stroke-opacity="0.45" stroke-width="8.6" stroke-linejoin="round" stroke-linecap="round"/><polyline points="72.7,520.2 80.8,517.3 88,519.7 97.1,517.3 106.1,514.8 115.1,511.2 127.8,507 136.8,508.8 145.8,511.2 154.9,508.8 162.1,505.2 171.1,502.9 180.2,499.8 189.2,497.1 195.5,493.5 200,496.2 207.2,498.9 212.7,484.4 217.2,479.9 222.6,484.4 227.1,477.2 230.4,477.9 235.8,480.6 241.3,475.2 250.3,471.1 259.3,474.3 266.5,465.3 272.9,469.8 279.2,466.2 287.3,466.2 293.6,461.7 299,464.4 306.3,461.7 315.3,460.2 320.7,463.5 326.1,459 333.4,464.4 342.4,463.5 351.4,465.3 359.5,458.1 367.7,461.7 374,464.4 380.3,460.8 387.2,463.5 396.3,462.6 402.6,466.2 407.1,460.8 413.4,457.2 419.7,462.6 427,459.9 434.2,468 439.6,463.5 448.6,467.1 459.5,473.4 466.7,470.7 473,473.4 478.4,468.9 488.4,470.7 495.6,467.1 502.8,470.7 508.2,468 515.4,471.6 522.7,470.7 529.9,474.3 535,474.2 542.2,473 549.4,477.3 560.3,481.5 568.4,478.4 578.3,480.9 587.4,481.5 596.4,484.5 607.2,486.3 614.5,483.8 621.7,484.2 628.9,486.9 635.2,488.1 641.5,483.3 650.6,479.1 659.6,475.1 668.6,471.5 675,467.9 680.4,462.5 684.9,458.9 690,452.7 697.3,449 704.7,446.3 710.2,441.7 716.6,437.1 721.2,438 726.7,431.6 732.2,421.5 737.7,410.5 742.3,408.7 746.8,396.8 752.3,393.1 757.8,391.3 762.4,385.8 768.8,387.6 774.3,382.1 779.8,383.9 785.3,377.5 790.8,373.8 795.4,367.4 800.9,369.3 805.5,364.7 810.1,367.4 813.8,371.1" fill="none" stroke="#8ed84a" stroke-width="6.9" stroke-linejoin="round" stroke-linecap="round"/><polyline points="72.3,467.6 81.7,462.6 90.4,459.7 100.3,455 110.8,454.4 119,452.9 126,453.8 130,453.2 137.5,449.7 148,443.7 160,440.7 172,439.2 178,431 180,427.8 187,422 191.7,424.3 198.7,415 205.7,408 211.5,403.3 217.3,396.3 223.1,395.2 227.8,387 236,388.2 241.8,381.2 244.5,377.7 250,378.6 259,377.7 263.3,370.2 266.8,362 269.7,363.8 273.2,360.3 276.7,356.8 279.6,357.9 283.1,349.2 288.3,348.6 293,343.9 297.7,342.2 301.2,339.3 304.7,336.3 308.2,338.7 312.8,344.5 316.3,334 321,332.3 325.7,329.9 328.5,334.5 332,337.4 336.7,338 341.3,333.3 346,331.6 350,329.8 354.2,333.9 359.4,325.2 363.5,328.1 367.6,321.1 371.7,322.8 375.8,329.3 379.8,322.8 385.7,318.2 390.3,322.3 392.3,316.7 396.4,313.2 400.5,317.8 405.2,316.1 410.4,313.2 415.7,316.1 419.2,319 421.5,323.7 425,329.5 429.7,332.4 434.3,334.8 437.3,333.6 441.3,330.1 446,331.8 449.5,338.3 453.6,334.2 459.7,333.75 463.2,327.3 465.5,320.9 467.8,325 470.2,330.25 473.7,332 477.2,331.4 480.1,329.7 483,333.2 486.5,335.5 491.2,336.7 495.8,339.6 500.5,339 505.2,337.3 509.8,340.2 513.3,343.7 516.8,346.6 520.3,346 523.5,343.9 529.3,342.75 534,344.5 536.9,347.4 539.25,350.9 542.2,346.8 545.1,348.6 548.6,345.1 551.5,349.2 555,350.9 558.5,350.3 563.2,356.75 566.7,352.7 571.9,349.75 576,351.5 580.7,350.6 584.75,353.25 588.8,359.5 592,361 595.5,359.25 600.2,361 606,361.6 609.5,368 614.2,368 618.8,367.1 624.7,368.6 628.75,365.1 632.25,367.4 635.2,369.2 638.7,364.5 642.2,359.25 645.7,356.9 649.2,352.8 654,350 658,349 663,343 669,340 675,337 680,325.3 687,311.3 692.8,299.6 698.7,297.3 702.2,290.3 708,284.5 712.7,279.8 715,272.8 720.8,267 725.5,257.6 730.1,248.3 734.8,235.5 740,223.8 744.8,212.7 749.5,208 754.3,198.4 759,192.1 763.8,189 768.5,179.4 774.9,173 781.2,170 787.5,165.2 792.3,157.2 797,154 801.8,144.6 806.5,136.6 810.3,138.2 813.5,141.4" fill="none" stroke="#e01414" stroke-width="3.6" stroke-linejoin="round" stroke-linecap="round"/><rect x="104.5" y="60.5" width="32" height="11" rx="3" fill="#2f5ba5"/><rect x="109" y="64.5" width="23" height="3" rx="1.5" fill="#3d72c4"/><rect x="106" y="84.2" width="28.3" height="5.4" fill="#c65a1d"/><line x1="107.3" y1="108" x2="133.3" y2="108" stroke="#d40f14" stroke-width="3.4" stroke-linecap="round"/><line x1="106.8" y1="128.8" x2="133.4" y2="128.8" stroke="#8fcf50" stroke-width="5" stroke-linecap="round"/><rect x="0" y="294.2" width="1.8" height="8.7" fill="#d6d6d6"/><rect x="0" y="599" width="886" height="1" fill="#e6e6e6"/></svg>
<div class="t">Україна</div>
<div class="yl" style="top:40px">50000</div><div class="yl" style="top:90.33px">45000</div><div class="yl" style="top:140.66px">40000</div><div class="yl" style="top:190.99px">35000</div><div class="yl" style="top:241.32px">30000</div><div class="yl" style="top:291.65px">25000</div><div class="yl" style="top:341.98px">20000</div><div class="yl" style="top:392.31px">15000</div><div class="yl" style="top:442.64px">10000</div><div class="yl" style="top:492.97px">5000</div><div class="yl" style="top:543.3px">0</div>
<div class="yr" style="top:40px">4000</div><div class="yr" style="top:65.16px">3800</div><div class="yr" style="top:90.33px">3600</div><div class="yr" style="top:115.5px">3400</div><div class="yr" style="top:140.66px">3200</div><div class="yr" style="top:165.82px">3000</div><div class="yr" style="top:190.99px">2800</div><div class="yr" style="top:216.16px">2600</div><div class="yr" style="top:241.32px">2400</div><div class="yr" style="top:266.49px">2200</div><div class="yr" style="top:291.65px">2000</div><div class="yr" style="top:316.81px">1800</div><div class="yr" style="top:341.98px">1600</div><div class="yr" style="top:367.14px">1400</div><div class="yr" style="top:392.31px">1200</div><div class="yr" style="top:417.47px">1000</div><div class="yr" style="top:442.64px">800</div><div class="yr" style="top:467.81px">600</div><div class="yr" style="top:492.97px">400</div><div class="yr" style="top:518.13px">200</div><div class="yr" style="top:543.3px">0</div>
<div class="xl" style="left:33.86px">1 сен</div><div class="xl" style="left:133.61px">1 окт</div><div class="xl" style="left:236.69px">1 ноя</div><div class="xl" style="left:336.44px">1 дек</div><div class="xl" style="left:439.51px">1 янв</div><div class="xl" style="left:542.59px">1 фев</div><div class="xl" style="left:635.69px">1 мар</div><div class="xl" style="left:738.76px">1 апр</div>
<div class="lg" style="top:56.9px;transform:scaleX(0.973);transform-origin:0 0">Зайнято загалом хворими з COVID-19 ( ліва шкала )</div><div class="lg" style="top:77.8px">Загалом підозри + підтверджені хворі ( л.ш. )</div><div class="lg" style="top:98.9px">Зайнято реанімаційні / інтенсивної терапії ( права шкала )</div><div class="lg" style="top:120.6px;transform:scaleX(0.99);transform-origin:0 0">Загалом ШВЛ&nbsp; підключено до пацієнтів, ( права шкала )</div>
</body></html>
